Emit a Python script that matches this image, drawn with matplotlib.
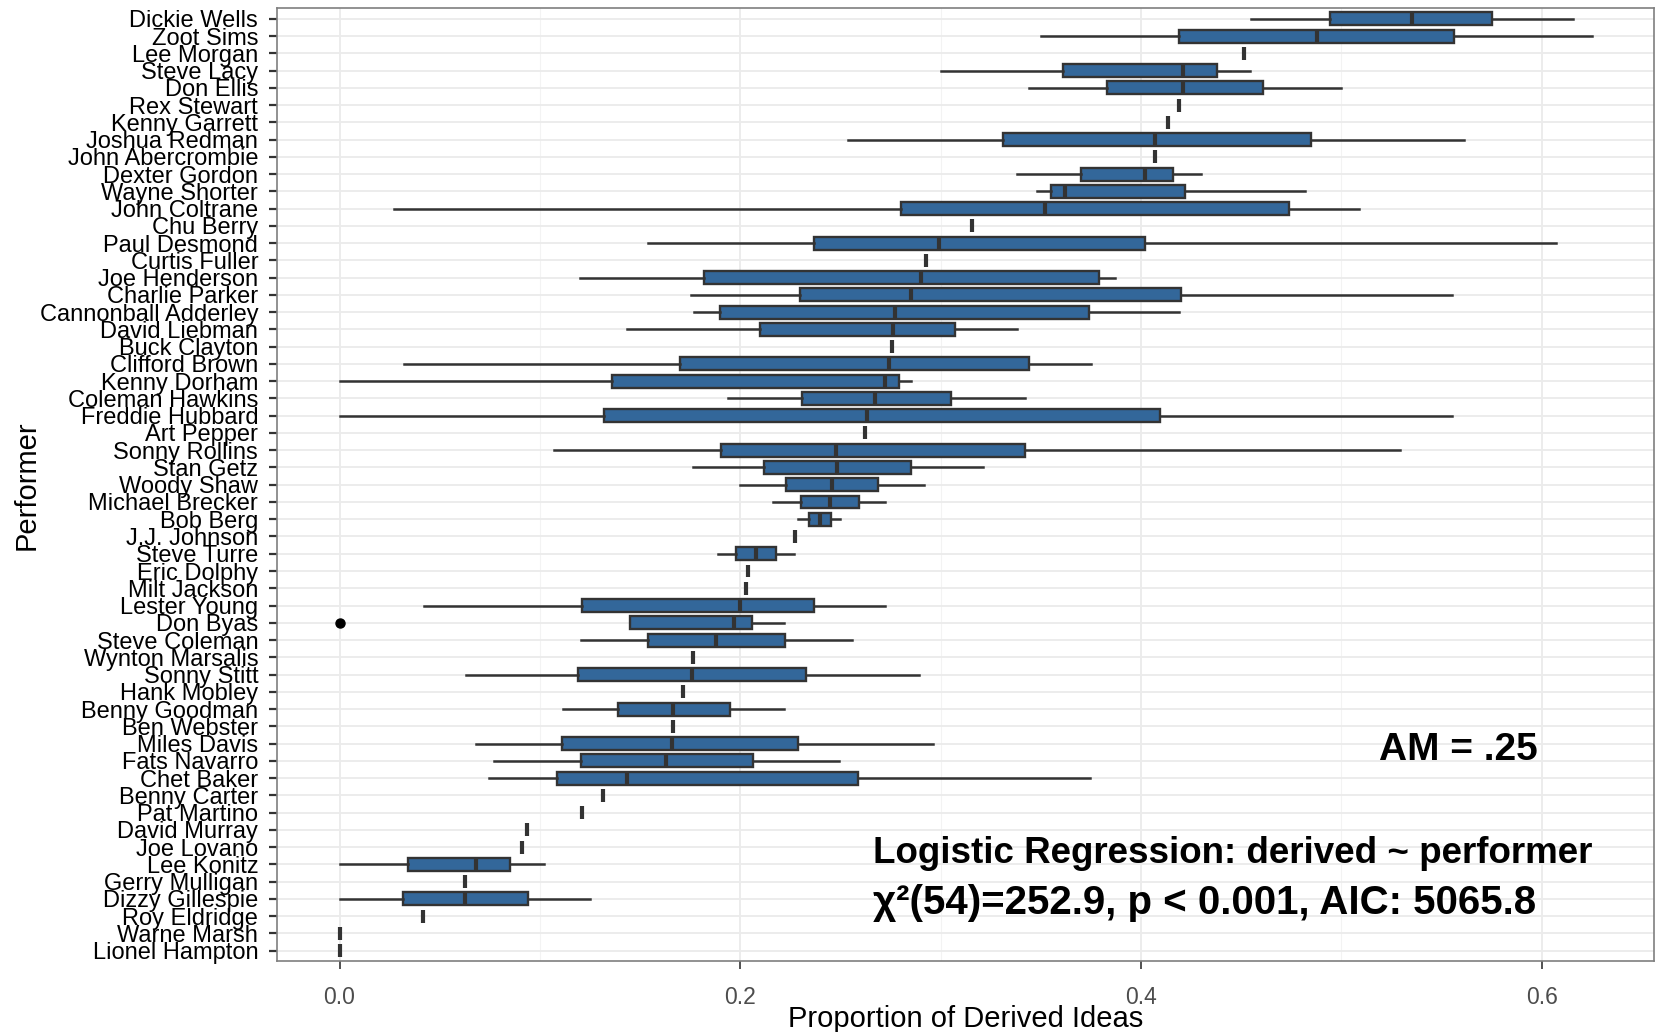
import matplotlib
matplotlib.use("Agg")
import matplotlib.pyplot as plt
from matplotlib.ticker import FixedLocator

performers = ["Dickie Wells", "Zoot Sims", "Lee Morgan", "Steve Lacy", "Don Ellis",
              "Rex Stewart", "Kenny Garrett", "Joshua Redman", "John Abercrombie",
              "Dexter Gordon", "Wayne Shorter", "John Coltrane", "Chu Berry",
              "Paul Desmond", "Curtis Fuller", "Joe Henderson", "Charlie Parker",
              "Cannonball Adderley", "David Liebman", "Buck Clayton", "Clifford Brown",
              "Kenny Dorham", "Coleman Hawkins", "Freddie Hubbard", "Art Pepper",
              "Sonny Rollins", "Stan Getz", "Woody Shaw", "Michael Brecker", "Bob Berg",
              "J.J. Johnson", "Steve Turre", "Eric Dolphy", "Milt Jackson", "Lester Young",
              "Don Byas", "Steve Coleman", "Wynton Marsalis", "Sonny Stitt", "Hank Mobley",
              "Benny Goodman", "Ben Webster", "Miles Davis", "Fats Navarro", "Chet Baker",
              "Benny Carter", "Pat Martino", "David Murray", "Joe Lovano", "Lee Konitz",
              "Gerry Mulligan", "Dizzy Gillespie", "Roy Eldridge", "Warne Marsh",
              "Lionel Hampton"]

whisker_low = [0.455, 0.350, 0.4516, 0.300, 0.344, 0.419, 0.4135, 0.254, 0.407, 0.338,
               0.348, 0.027, 0.3156, 0.154, 0.2925, 0.120, 0.1755, 0.177, 0.1435, 0.2757,
               0.032, 0.0, 0.194, 0.0, 0.262, 0.107, 0.1765, 0.200, 0.2164, 0.229,
               0.2272, 0.189, 0.2037, 0.2029, 0.042, 0.145, 0.1206, 0.1765, 0.063, 0.1712,
               0.1116, 0.1665, 0.068, 0.077, 0.0744, 0.1314, 0.1211, 0.0934, 0.091, 0.0,
               0.0625, 0.0, 0.0417, 0.0, 0.0]
q1 = [0.4945, 0.419, 0.4516, 0.361, 0.383, 0.419, 0.4135, 0.331, 0.407, 0.370,
      0.355, 0.280, 0.3156, 0.237, 0.2925, 0.182, 0.230, 0.190, 0.210, 0.2757,
      0.170, 0.136, 0.231, 0.132, 0.262, 0.1905, 0.212, 0.223, 0.2305, 0.2343,
      0.2272, 0.198, 0.2037, 0.2029, 0.121, 0.145, 0.154, 0.1765, 0.119, 0.1712,
      0.139, 0.1665, 0.111, 0.1206, 0.1084, 0.1314, 0.1211, 0.0934, 0.091, 0.034,
      0.0625, 0.0317, 0.0417, 0.0, 0.0]
median = [0.535, 0.488, 0.4516, 0.421, 0.421, 0.419, 0.4135, 0.407, 0.407, 0.402,
          0.362, 0.352, 0.3156, 0.299, 0.2925, 0.290, 0.285, 0.277, 0.276, 0.2757,
          0.274, 0.272, 0.267, 0.263, 0.262, 0.248, 0.2485, 0.246, 0.2448, 0.2397,
          0.2272, 0.208, 0.2037, 0.2029, 0.200, 0.197, 0.188, 0.1765, 0.176, 0.1712,
          0.1665, 0.1665, 0.166, 0.163, 0.1433, 0.1314, 0.1211, 0.0934, 0.091, 0.068,
          0.0625, 0.0625, 0.0417, 0.0, 0.0]
q3 = [0.575, 0.556, 0.4516, 0.438, 0.461, 0.419, 0.4135, 0.485, 0.407, 0.416,
      0.422, 0.474, 0.3156, 0.402, 0.2925, 0.379, 0.420, 0.374, 0.307, 0.2757,
      0.344, 0.279, 0.305, 0.4095, 0.262, 0.342, 0.285, 0.2685, 0.259, 0.2451,
      0.2272, 0.218, 0.2037, 0.2029, 0.237, 0.206, 0.2224, 0.1765, 0.233, 0.1712,
      0.1947, 0.1665, 0.229, 0.2066, 0.2587, 0.1314, 0.1211, 0.0934, 0.091, 0.085,
      0.0625, 0.094, 0.0417, 0.0, 0.0]
whisker_high = [0.6155, 0.625, 0.4516, 0.4545, 0.500, 0.419, 0.4135, 0.561, 0.407, 0.430,
                0.482, 0.509, 0.3156, 0.607, 0.2925, 0.387, 0.555, 0.419, 0.338, 0.2757,
                0.375, 0.285, 0.342, 0.555, 0.262, 0.529, 0.321, 0.2915, 0.2724, 0.250,
                0.2272, 0.227, 0.2037, 0.2029, 0.2724, 0.2216, 0.256, 0.1765, 0.289, 0.1712,
                0.2216, 0.1665, 0.296, 0.2494, 0.3746, 0.1314, 0.1211, 0.0934, 0.091, 0.102,
                0.0625, 0.125, 0.0417, 0.0, 0.0]
outliers = {"Don Byas": [0.0]}

x_ticks = [0.0, 0.2, 0.4, 0.6]
x_tick_labels = ["0.0", "0.2", "0.4", "0.6"]

FILL = "#33679A"
EDGE = "#333333"
TXT_FONT = ["Liberation Sans", "DejaVu Sans"]
ANN_FONT = ["Liberation Sans", "DejaVu Sans"]

fig = plt.figure(figsize=(16.61, 10.32), dpi=100)
ax = fig.add_axes([0.167, 0.0688, 0.9958 - 0.167, 0.9918 - 0.0688])

n = len(performers)
positions = [n - 1 - i for i in range(n)]
stats = []
for i, name in enumerate(performers):
    stats.append(dict(label=name, whislo=whisker_low[i], q1=q1[i], med=median[i],
                      q3=q3[i], whishi=whisker_high[i], fliers=outliers.get(name, [])))

ax.bxp(stats, positions=positions, orientation="horizontal", widths=0.75,
       patch_artist=True, showcaps=False,
       boxprops=dict(facecolor=FILL, edgecolor=EDGE, linewidth=1.7),
       whiskerprops=dict(color=EDGE, linewidth=1.8),
       medianprops=dict(color=EDGE, linewidth=3.0, solid_capstyle="butt"),
       flierprops=dict(marker="o", markerfacecolor="black", markeredgecolor="black",
                       markersize=6.5))

ax.set_xlim(-0.031, 0.656)
ax.set_ylim(-0.6, n - 1 + 0.6)

ax.set_xticks(x_ticks)
ax.set_xticklabels(x_tick_labels)
ax.xaxis.set_minor_locator(FixedLocator([0.1, 0.3, 0.5]))
ax.set_yticks(positions)
ax.set_yticklabels(performers)

ax.grid(True, which="major", color="#EBEBEB", linewidth=1.3, zorder=0)
ax.grid(True, which="minor", axis="x", color="#F3F3F3", linewidth=0.8, zorder=0)
ax.set_axisbelow(True)

for s in ax.spines.values():
    s.set_color("#7F7F7F")
    s.set_linewidth(1.2)

ax.tick_params(axis="y", which="major", length=5.8, width=1.6, color="#333333",
               labelsize=17, labelcolor="black", pad=8)
ax.tick_params(axis="x", which="major", length=5.8, width=1.2, color="#333333",
               labelsize=16.5, labelcolor="#4D4D4D", pad=12)
ax.tick_params(axis="x", which="minor", length=0)
for lab in ax.get_yticklabels() + ax.get_xticklabels():
    lab.set_fontfamily(TXT_FONT)

ax.set_xlabel("Proportion of Derived Ideas", fontsize=21, family=TXT_FONT, labelpad=-3)
ax.set_ylabel("Performer", fontsize=21, family=TXT_FONT, labelpad=-1)

ax.text(0.5586, n - 1 - 42.4, "AM = .25", ha="center", va="center",
        fontsize=28, fontweight="bold", family=ANN_FONT, color="black")
ax.text(0.266, n - 1 - 48.35, "Logistic Regression: derived ~ performer", ha="left",
        va="center", fontsize=26.5, fontweight="bold", family=ANN_FONT, color="black")
ax.text(0.266, n - 1 - 51.25, "\u03c7\u00b2(54)=252.9, p < 0.001, AIC: 5065.8", ha="left",
        va="center", fontsize=29, fontweight="bold", family=ANN_FONT, color="black")

fig.savefig("out.png", dpi=100)
